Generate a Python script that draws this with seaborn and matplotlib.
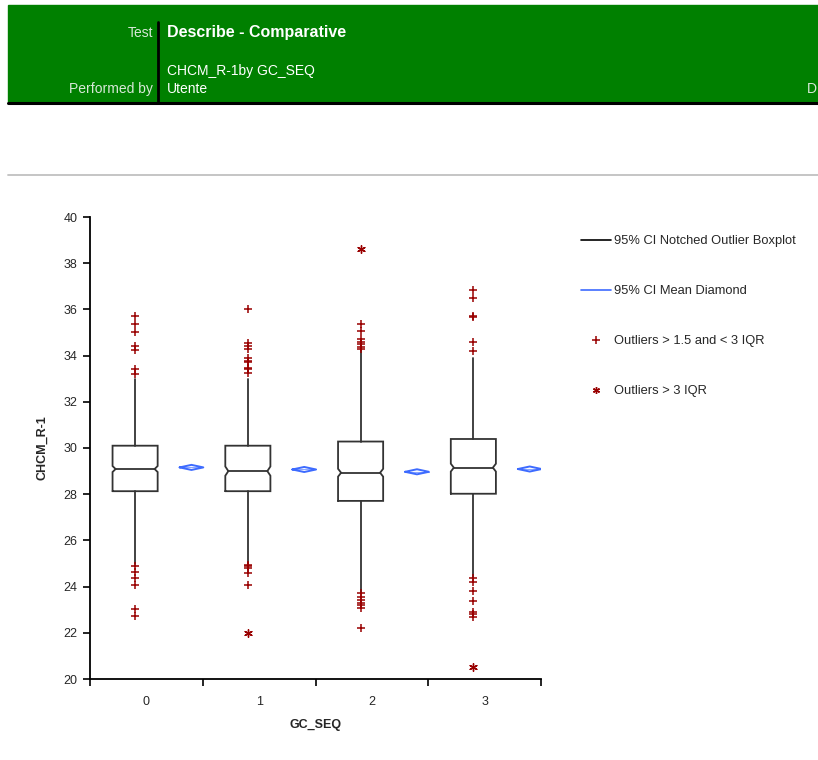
import numpy as np
import pandas as pd
import matplotlib
matplotlib.use("Agg")
import matplotlib.pyplot as plt
from matplotlib.lines import Line2D
from matplotlib.patches import Rectangle
import seaborn as sns

sns.set_style("white")
plt.rcParams["font.family"] = ["Liberation Sans", "DejaVu Sans"]

# ---- data -------------------------------------------------------------
groups = ["0", "1", "2", "3"]
q1 = [28.13, 28.13, 27.71, 28.02]
q3 = [30.10, 30.10, 30.28, 30.39]
median = [29.09, 29.00, 28.93, 29.15]
median_ci_lo = [28.96, 28.80, 28.76, 28.98]
median_ci_hi = [29.22, 29.20, 29.10, 29.32]
whisker_lo = [24.98, 24.98, 23.71, 24.43]
whisker_hi = [32.99, 33.00, 34.24, 33.91]
mean = [29.16, 29.07, 28.97, 29.09]
mean_ci_lo = [29.05, 28.96, 28.86, 28.98]
mean_ci_hi = [29.27, 29.18, 29.08, 29.20]

mild_outliers = [
    [35.70, 35.38, 35.01, 34.43, 34.23, 33.42, 33.19, 24.90, 24.63, 24.37, 24.08, 23.04, 22.71],
    [36.02, 34.55, 34.43, 34.29, 33.91, 33.77, 33.71, 33.48, 33.42, 33.26, 24.95, 24.88, 24.79, 24.60, 24.08],
    [35.37, 35.06, 34.72, 34.60, 34.50, 34.39, 34.29, 23.71, 23.56, 23.42, 23.30, 23.19, 23.06, 22.19],
    [36.84, 36.49, 35.71, 35.66, 34.60, 34.21, 24.37, 24.19, 23.80, 23.38, 22.91, 22.80, 22.70],
]
extreme_outliers = [[], [21.98], [38.60], [20.51]]

y_ticks = [20, 22, 24, 26, 28, 30, 32, 34, 36, 38, 40]

# ---- styling ----------------------------------------------------------
BOX_COLOR = "#333333"
MEAN_COLOR = "#3d6bff"
OUT_COLOR = "#990000"
HEADER_GREEN = "#008000"
BOX_OFFSET, BOX_W = -0.10, 0.40
DIA_OFFSET, DIA_W = 0.40, 0.21
NOTCH_INSET = 0.027

W, H = 818, 760
fig = plt.figure(figsize=(W / 100, H / 100), dpi=100)

# header band
fig.patches.append(Rectangle((8 / W, 1 - 102 / H), 810 / W, 97 / H,
                             transform=fig.transFigure, color=HEADER_GREEN, zorder=0))
fig.add_artist(Line2D([8 / W, 1], [1 - 102.5 / H] * 2, transform=fig.transFigure,
                      color="black", lw=2.2))
fig.add_artist(Line2D([158 / W] * 2, [1 - 102 / H, 1 - 22 / H], transform=fig.transFigure,
                      color="black", lw=2.0))
fig.add_artist(Line2D([8 / W, 1], [1 - 175 / H] * 2, transform=fig.transFigure,
                      color="#c0c0c0", lw=1.3))

hdr_font = ["Liberation Sans Narrow", "Liberation Sans", "DejaVu Sans"]
fig.text(153 / W, 1 - 33 / H, "Test", ha="right", va="center", color="#d8e8d8",
         fontsize=10, family=hdr_font)
fig.text(167 / W, 1 - 33 / H, "Describe - Comparative", ha="left", va="center",
         color="white", fontsize=11.5, fontweight="bold", family=hdr_font)
fig.text(167 / W, 1 - 71 / H, "CHCM_R-1by GC_SEQ", ha="left", va="center",
         color="white", fontsize=10, family=hdr_font)
fig.text(153 / W, 1 - 89 / H, "Performed by", ha="right", va="center", color="#d8e8d8",
         fontsize=10, family=hdr_font)
fig.text(167 / W, 1 - 89 / H, "Utente", ha="left", va="center",
         color="white", fontsize=10, family=hdr_font)
fig.text(807 / W, 1 - 89 / H, "D", ha="left", va="center", color="#d8e8d8",
         fontsize=10, family=hdr_font)

# plot area
ax = fig.add_axes([90 / W, 1 - 679 / H, (541 - 90) / W, (679 - 217) / H])
ax.set_xlim(-0.5, len(groups) - 0.5)
ax.set_ylim(20, 40)

for i in range(len(groups)):
    c = i + BOX_OFFSET
    l, r = c - BOX_W / 2, c + BOX_W / 2
    nl, nr = l + NOTCH_INSET, r - NOTCH_INSET
    xs = [l, r, r, nr, r, r, l, l, nl, l, l]
    ys = [q1[i], q1[i], median_ci_lo[i], median[i], median_ci_hi[i], q3[i], q3[i],
          median_ci_hi[i], median[i], median_ci_lo[i], q1[i]]
    ax.plot(xs, ys, color=BOX_COLOR, lw=1.3, solid_joinstyle="miter", zorder=3)
    ax.plot([nl, nr], [median[i], median[i]], color=BOX_COLOR, lw=1.3, zorder=3)
    ax.plot([c, c], [q3[i], whisker_hi[i]], color=BOX_COLOR, lw=1.3, zorder=2)
    ax.plot([c, c], [q1[i], whisker_lo[i]], color=BOX_COLOR, lw=1.3, zorder=2)

    d = i + DIA_OFFSET
    ax.plot([d - DIA_W / 2, d, d + DIA_W / 2, d, d - DIA_W / 2],
            [mean[i], mean_ci_hi[i], mean[i], mean_ci_lo[i], mean[i]],
            color=MEAN_COLOR, lw=1.4, zorder=3)
    ax.plot([d - DIA_W / 2, d + DIA_W / 2], [mean[i], mean[i]],
            color=MEAN_COLOR, lw=0.8, alpha=0.6, zorder=3)

# outliers
rows = []
for i in range(len(groups)):
    for v in mild_outliers[i]:
        rows.append({"pos": i + BOX_OFFSET, "value": v, "kind": "mild"})
    for v in extreme_outliers[i]:
        rows.append({"pos": i + BOX_OFFSET, "value": v, "kind": "extreme"})
out = pd.DataFrame(rows)
sns.scatterplot(data=out[out.kind == "mild"], x="pos", y="value", marker="+", s=40,
                color=OUT_COLOR, linewidth=1.1, ax=ax, zorder=4, legend=False)
sns.scatterplot(data=out[out.kind == "extreme"], x="pos", y="value", marker=(6, 2, 0),
                s=30, color=OUT_COLOR, linewidth=1.0, ax=ax, zorder=4, legend=False)

# axes
sns.despine(ax=ax)
for s in ("left", "bottom"):
    ax.spines[s].set_linewidth(1.3)
    ax.spines[s].set_color("black")
ax.set_yticks(y_ticks)
ax.set_yticklabels([str(t) for t in y_ticks])
ax.set_xticks(np.arange(-0.5, len(groups), 1.0))
ax.set_xticklabels([])
ax.set_xticks(np.arange(len(groups)), minor=True)
ax.set_xticklabels(groups, minor=True)
ax.tick_params(axis="both", which="major", direction="out", length=5, width=1.2,
               color="black", labelsize=9, pad=4, left=True, bottom=True)
ax.tick_params(axis="x", which="minor", length=0, labelsize=9, pad=12)
ax.set_ylabel("CHCM_R-1", fontsize=9, fontweight="bold", labelpad=11)
ax.set_xlabel("GC_SEQ", fontsize=9, fontweight="bold", labelpad=8)

# legend
handles = [
    Line2D([], [], color="black", lw=1.2),
    Line2D([], [], color=MEAN_COLOR, lw=1.2),
    Line2D([], [], color=OUT_COLOR, lw=0, marker="+", markersize=6, markeredgewidth=1.1),
    Line2D([], [], color=OUT_COLOR, lw=0, marker=(6, 2, 0), markersize=5, markeredgewidth=1.0),
]
labels = ["95% CI Notched Outlier Boxplot", "95% CI Mean Diamond",
          "Outliers > 1.5 and < 3 IQR", "Outliers > 3 IQR"]
fig.legend(handles, labels, loc="upper left", bbox_to_anchor=(581 / W, 1 - 235 / H),
           frameon=False, fontsize=9.3, handlelength=2.3, handletextpad=0.25,
           labelspacing=2.95, borderpad=0, borderaxespad=0)

fig.savefig("out.png", dpi=100)
